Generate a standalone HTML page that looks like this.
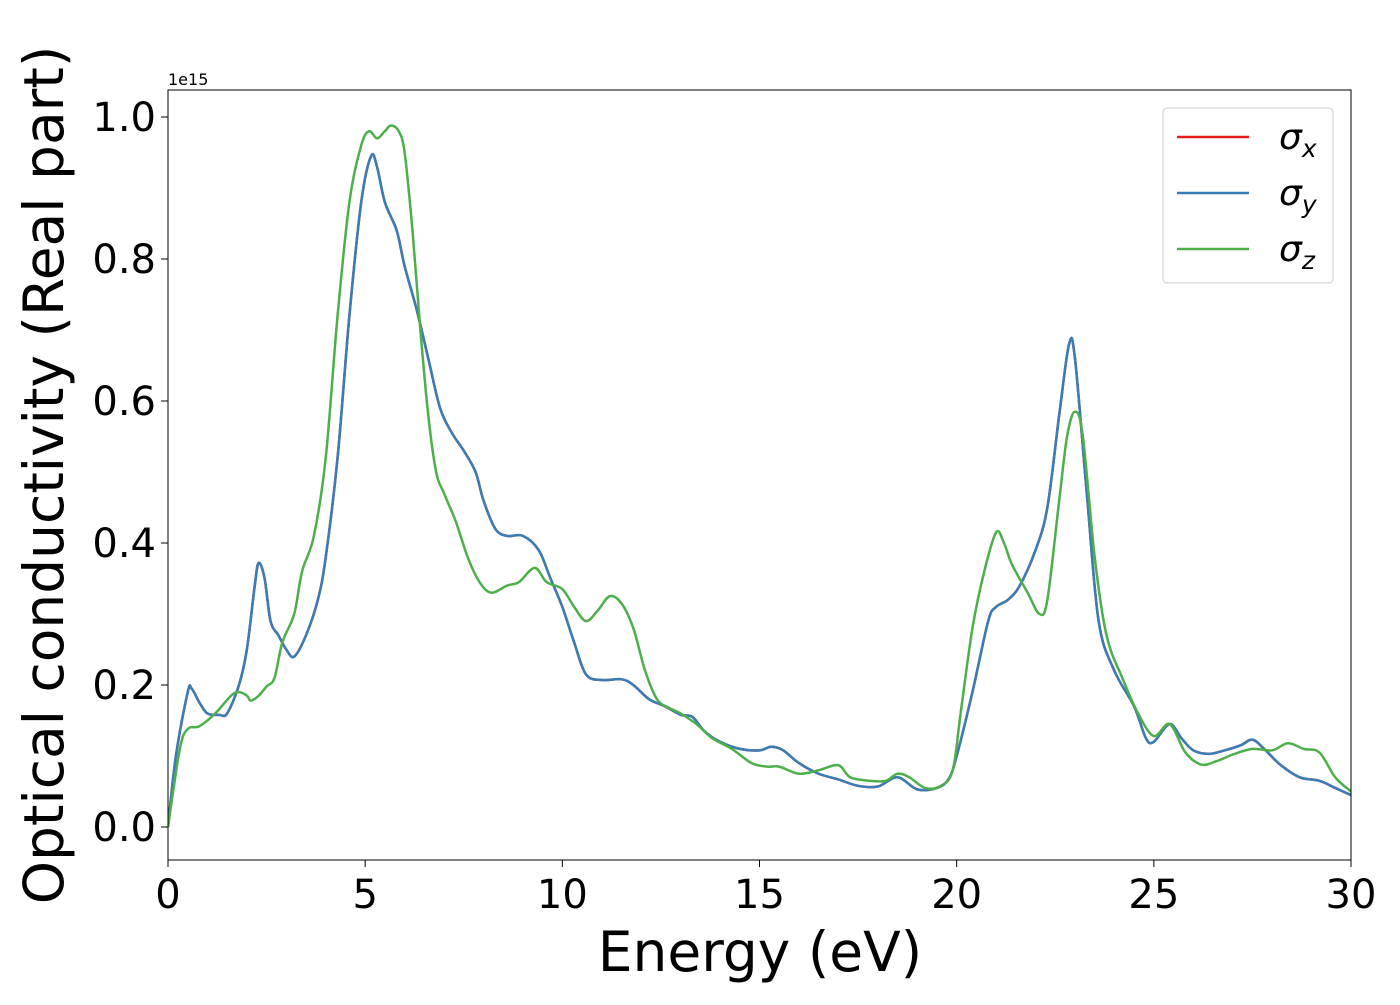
<!DOCTYPE html>
<html><head><meta charset="utf-8"><style>
body{margin:0;background:#fff;font-family:"Liberation Sans","DejaVu Sans",sans-serif}
</style></head><body>
<svg id="chart" width="1400" height="1000" xmlns="http://www.w3.org/2000/svg" font-family="DejaVu Sans, Liberation Sans, sans-serif">
<rect width="1400" height="1000" fill="#fff"/>
<g id="plot"></g>
</svg>
<script>
const xTicks=[0,5,10,15,20,25,30];
const yTicks=[0,0.2,0.4,0.6,0.8,1.0];
const yTickLabels=["0.0","0.2","0.4","0.6","0.8","1.0"];
const energyXY=[0,0.2,0.5,0.6,0.8,1.0,1.3,1.5,1.8,2.0,2.2,2.3,2.45,2.6,2.8,3.0,3.2,3.5,3.8,4.0,4.3,4.6,4.9,5.15,5.3,5.5,5.8,6.0,6.3,6.6,6.9,7.2,7.5,7.8,8.0,8.3,8.6,9.0,9.4,9.7,10.0,10.3,10.6,11.0,11.5,11.8,12.2,12.6,13.0,13.3,13.6,14.0,14.5,15.0,15.3,15.6,16.0,16.5,17.0,17.5,18.0,18.5,19.0,19.5,19.8,20.0,20.4,20.8,21.0,21.3,21.6,22.0,22.3,22.6,22.85,23.0,23.3,23.6,24.0,24.5,24.8,25.0,25.4,25.7,26.0,26.4,26.8,27.2,27.5,27.8,28.2,28.7,29.2,29.6,30];
const sigmaY=[0,0.1,0.19,0.195,0.175,0.16,0.158,0.16,0.2,0.25,0.34,0.372,0.35,0.29,0.27,0.25,0.24,0.27,0.32,0.38,0.52,0.72,0.88,0.945,0.93,0.88,0.84,0.79,0.73,0.66,0.59,0.555,0.53,0.5,0.46,0.42,0.41,0.41,0.39,0.35,0.31,0.26,0.215,0.207,0.208,0.2,0.18,0.17,0.158,0.155,0.135,0.12,0.11,0.108,0.113,0.108,0.09,0.075,0.067,0.058,0.057,0.07,0.053,0.055,0.068,0.1,0.19,0.29,0.31,0.32,0.34,0.39,0.45,0.58,0.68,0.66,0.47,0.29,0.22,0.17,0.125,0.12,0.145,0.125,0.108,0.103,0.108,0.115,0.123,0.11,0.088,0.07,0.065,0.055,0.045];
const sigmaX=sigmaY.slice();
const energyZ=[0,0.3,0.5,0.8,1.2,1.6,1.8,2.0,2.1,2.3,2.5,2.7,2.9,3.2,3.4,3.7,4.0,4.3,4.6,4.9,5.1,5.3,5.5,5.65,5.85,6.0,6.2,6.4,6.6,6.8,7.0,7.3,7.6,7.9,8.2,8.6,8.9,9.3,9.6,10.0,10.3,10.6,10.9,11.2,11.5,11.8,12.1,12.4,12.7,13.0,13.4,13.8,14.3,14.8,15.2,15.5,16.0,16.5,17.0,17.3,17.8,18.2,18.5,18.8,19.2,19.6,19.9,20.1,20.4,20.7,21.0,21.2,21.4,21.8,22.1,22.3,22.6,22.8,23.0,23.2,23.5,23.8,24.2,24.6,25.0,25.4,25.8,26.2,26.6,27.0,27.5,28.0,28.4,28.8,29.2,29.6,30];
const sigmaZ=[0,0.11,0.138,0.142,0.16,0.185,0.19,0.185,0.178,0.185,0.198,0.21,0.26,0.3,0.36,0.41,0.52,0.72,0.88,0.96,0.98,0.97,0.98,0.988,0.98,0.95,0.84,0.7,0.58,0.5,0.47,0.43,0.38,0.345,0.33,0.34,0.345,0.365,0.345,0.335,0.31,0.29,0.305,0.325,0.315,0.28,0.22,0.18,0.168,0.16,0.145,0.125,0.11,0.09,0.085,0.085,0.075,0.08,0.087,0.07,0.065,0.065,0.075,0.07,0.055,0.058,0.08,0.16,0.28,0.36,0.415,0.4,0.37,0.33,0.3,0.32,0.46,0.55,0.585,0.55,0.38,0.27,0.21,0.16,0.128,0.145,0.105,0.088,0.093,0.102,0.11,0.108,0.118,0.11,0.105,0.07,0.05];

const L=168,R=1351,T=90,B=860,Y0=827,Y1=117;
const sx=v=>L+(v-0)/30*(R-L);
const sy=v=>Y0+(v-0)*(Y1-Y0);
const NS="http://www.w3.org/2000/svg";
const g=document.getElementById('plot');
function mk(tag,attrs,parent){const e=document.createElementNS(NS,tag);for(const k in attrs)e.setAttribute(k,attrs[k]);(parent||g).appendChild(e);return e;}
function pathFrom(xs,ys){const p=xs.map((x,i)=>[sx(x),sy(ys[i])]);let d=`M${p[0][0]},${p[0][1]}`;
for(let i=0;i<p.length-1;i++){const p0=p[Math.max(0,i-1)],p1=p[i],p2=p[i+1],p3=p[Math.min(p.length-1,i+2)];
d+=` C${p1[0]+(p2[0]-p0[0])/6},${p1[1]+(p2[1]-p0[1])/6} ${p2[0]-(p3[0]-p1[0])/6},${p2[1]-(p3[1]-p1[1])/6} ${p2[0]},${p2[1]}`;}return d;}

const clip=mk('clipPath',{id:'clp'});mk('rect',{x:L,y:T,width:R-L,height:B-T},clip);
const series=[[energyXY,sigmaX,'#e41a1c','sigma-x-line'],[energyXY,sigmaY,'#377eb8','sigma-y-line'],[energyZ,sigmaZ,'#4daf4a','sigma-z-line']];
series.forEach(s=>{const e=mk('path',{d:pathFrom(s[0],s[1]),fill:'none',stroke:s[2],'stroke-width':2.5,'clip-path':'url(#clp)'});

});

const frame=mk('rect',{x:L,y:T,width:R-L,height:B-T,fill:'none',stroke:'#000','stroke-width':1});


xTicks.forEach(v=>{const x=sx(v);mk('line',{x1:x,x2:x,y1:B,y2:B+7,stroke:'#000'});
const t=mk('text',{x:x,y:B+48,'font-size':40,'text-anchor':'middle'});t.textContent=v;

});
yTicks.forEach((v,i)=>{const y=sy(v);mk('line',{x1:L-7,x2:L,y1:y,y2:y,stroke:'#000'});
const t=mk('text',{x:L-12,y:y+14,'font-size':40,'text-anchor':'end'});t.textContent=yTickLabels[i];

});
const off=mk('text',{x:L,y:T-5,'font-size':16});off.textContent='1e15';


const xl=mk('text',{x:760,y:971,'font-size':55,'text-anchor':'middle'});xl.textContent='Energy (eV)';


const yl=mk('text',{x:0,y:0,'font-size':55,'text-anchor':'middle',transform:'translate(63,475) rotate(-90)'});yl.textContent='Optical conductivity (Real part)';



const lg=mk('g',{});


mk('rect',{x:1163,y:108,width:170,height:175,rx:4,fill:'#fff',stroke:'#ccc','fill-opacity':0.8},lg);
const labs=[['x','#e41a1c'],['y','#377eb8'],['z','#4daf4a']];
labs.forEach((l,i)=>{const y=137+i*56;mk('line',{x1:1177,x2:1249,y1:y,y2:y,stroke:l[1],'stroke-width':2.5},lg);
const t=mk('text',{x:1279,y:y+12,'font-size':36,'font-style':'italic'},lg);t.textContent='σ';
const sub=mk('tspan',{'font-size':25,dy:8},t);sub.textContent=l[0];

});
</script>
</body></html>
